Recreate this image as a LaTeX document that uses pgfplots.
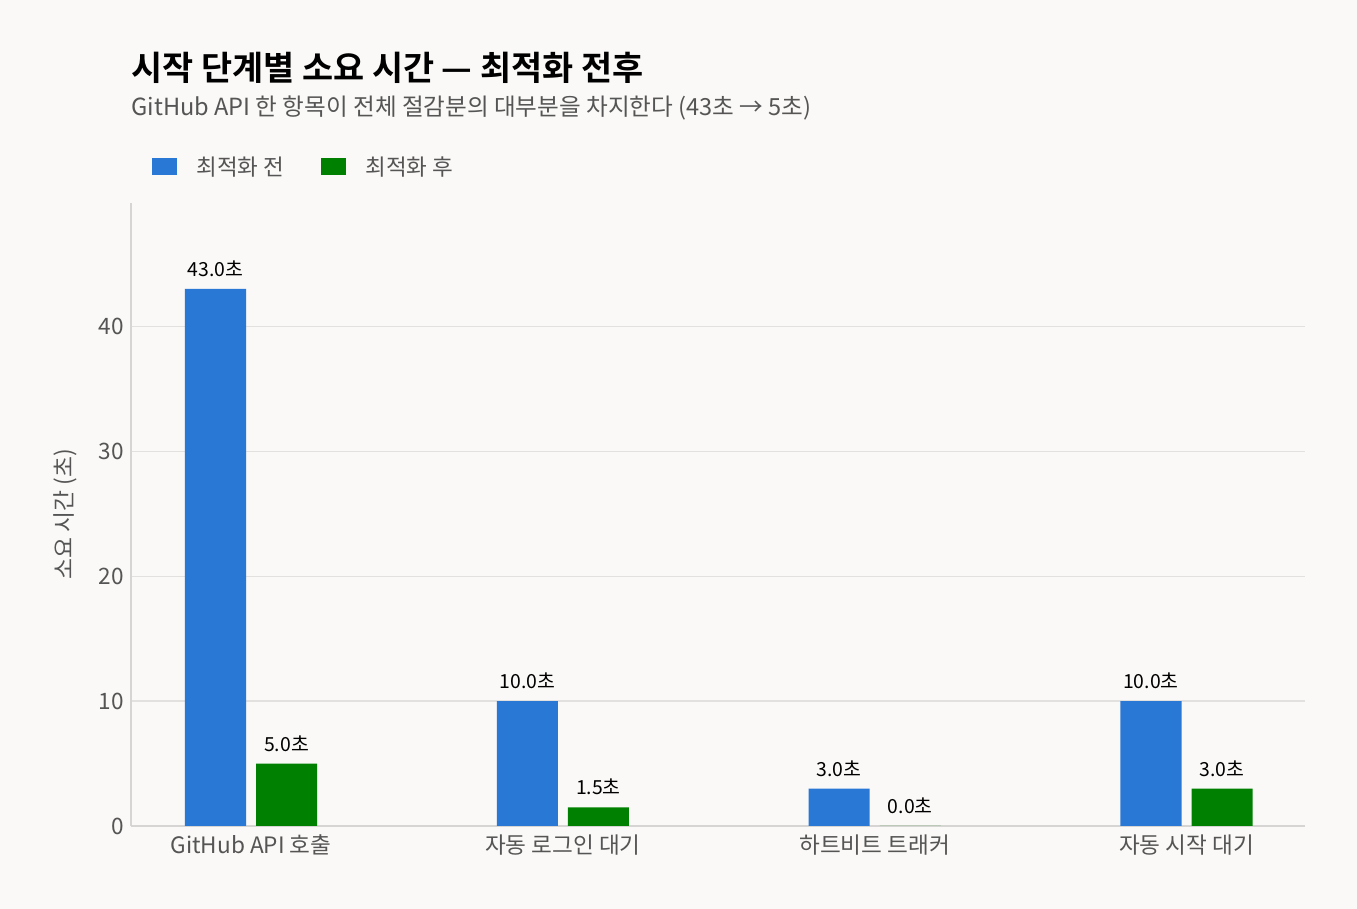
\documentclass[border=0pt]{standalone}
\usepackage{fontspec}
\setmainfont{Noto Sans CJK KR}[BoldFont={Noto Sans CJK KR Bold}]
\usepackage{pgfplots}
\pgfplotsset{compat=1.18}
\definecolor{bg}{HTML}{FAF9F7}
\definecolor{before}{HTML}{2A78D6}
\definecolor{after}{HTML}{008000}
\definecolor{txtgrey}{HTML}{555555}
\definecolor{gridc}{HTML}{E2E1DF}
\definecolor{spine}{HTML}{D6D5D3}

\pgfplotstableread{
x before after
0 43.0 5.0
1 10.0 1.5
2 3.0  0.0
3 10.0 3.0
}\timings

\begin{document}
\begin{tikzpicture}
\fill[bg] (0,0) rectangle (678.5pt,454.5pt);
\useasboundingbox (0,0) rectangle (678.5pt,454.5pt);
\node[anchor=west,font=\bfseries\fontsize{16.9}{18}\selectfont,inner sep=0pt] at (65.5pt,420.5pt) {시작 단계별 소요 시간 — 최적화 전후};
\node[anchor=west,font=\fontsize{11.8}{13}\selectfont,text=txtgrey,inner sep=0pt] at (65.5pt,400.5pt) {GitHub API 한 항목이 전체 절감분의 대부분을 차지한다 (43초 → 5초)};
\fill[before] (76pt,367pt) rectangle (88.5pt,375.5pt);
\node[anchor=west,font=\fontsize{11.25}{13}\selectfont,text=txtgrey,inner sep=0pt] at (98pt,371pt) {최적화 전};
\fill[after] (160.5pt,367pt) rectangle (173pt,375.5pt);
\node[anchor=west,font=\fontsize{11.25}{13}\selectfont,text=txtgrey,inner sep=0pt] at (182.5pt,371pt) {최적화 후};
\begin{axis}[
  at={(65.5pt,41.5pt)}, anchor=south west,
  scale only axis, width=587pt, height=311.5pt,
  xmin=-0.385, xmax=3.38, ymin=0, ymax=49.88,
  axis x line*=bottom, axis y line*=left,
  axis line style={draw=spine, line width=0.8pt},
  xtick=data, xticklabels={GitHub API 호출, 자동 로그인 대기, 하트비트 트래커, 자동 시작 대기},
  ytick={0,10,20,30,40},
  major tick length=0pt,
  ymajorgrids, grid style={draw=gridc, line width=0.6pt},
  tick label style={text=txtgrey, font=\fontsize{11.3}{13}\selectfont},
  /pgf/number format/assume math mode=true,
  xticklabel style={yshift=-1pt},
  ylabel={소요 시간 (초)},
  ylabel style={text=txtgrey, font=\fontsize{11.4}{13}\selectfont, at={(axis description cs:0,0.5)}, anchor=center, yshift=33pt},
  ybar, bar width=0.196,
  nodes near coords={\pgfmathprintnumber[fixed,precision=1,fixed zerofill]{\pgfplotspointmeta}초},
  nodes near coords style={font=\fontsize{9.7}{11}\selectfont, text=black, anchor=south, yshift=2.5pt},
]
\addplot[fill=before, draw=none, bar shift=-0.114] table[x=x, y=before] {\timings};
\addplot[fill=after, draw=none, bar shift=0.114] table[x=x, y=after] {\timings};
\end{axis}
\end{tikzpicture}
\end{document}
